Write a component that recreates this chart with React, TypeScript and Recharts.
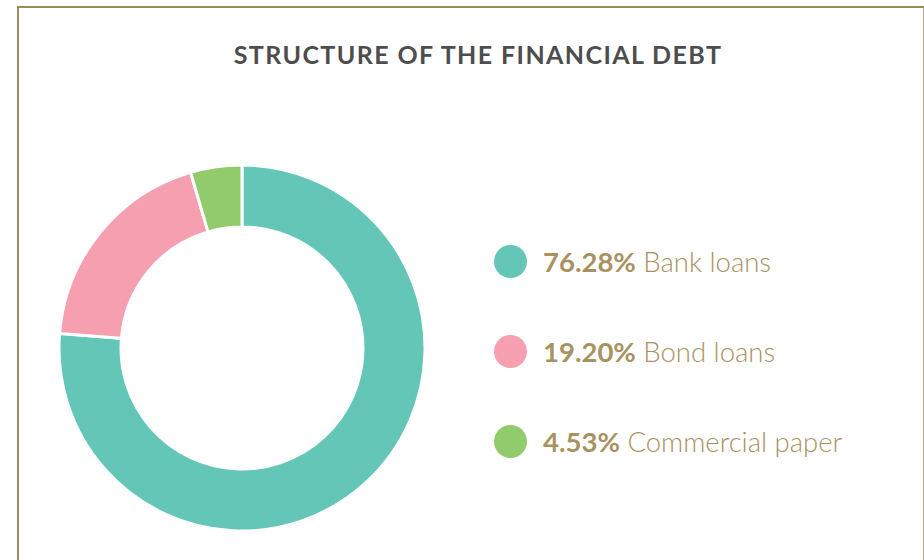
import React from "react";
import { PieChart, Pie, Cell } from "recharts";

const categories = ["Bank loans", "Bond loans", "Commercial paper"];
const shares = [76.28, 19.2, 4.53];
const shareLabels = ["76.28%", "19.20%", "4.53%"];
const colors = ["#63c6b6", "#f59fb0", "#92cb6c"];

const data = categories.map((name, i) => ({ name, value: shares[i], label: shareLabels[i], color: colors[i] }));

const LegendContent = () => (
  <div style={{ fontFamily: "Lato, 'Open Sans', sans-serif", color: "#a8925f" }}>
    {data.map((d) => (
      <div key={d.name} style={{ display: "flex", alignItems: "center", height: 90 }}>
        <span
          style={{
            display: "inline-block",
            width: 33,
            height: 33,
            borderRadius: "50%",
            background: d.color,
            marginRight: 16,
            flexShrink: 0,
          }}
        />
        <span style={{ fontSize: 27.5, whiteSpace: "nowrap", fontWeight: 300 }}>
          <b style={{ fontWeight: 700 }}>{d.label}</b> {d.name}
        </span>
      </div>
    ))}
  </div>
);

export default function App() {
  return (
    <div style={{ position: "absolute", left: 0, top: 0, width: 924, height: 560, background: "#fff", overflow: "hidden" }}>
      <div
        style={{
          position: "absolute",
          left: 17,
          top: 6,
          width: 904,
          height: 600,
          borderTop: "2px solid #9b8b55",
          borderLeft: "2px solid #9b8b55",
          borderRight: "2px solid #b5a882",
        }}
      />
      <div
        style={{
          position: "absolute",
          left: 0,
          top: 39,
          width: 956,
          textAlign: "center",
          fontFamily: "Lato, 'Open Sans', sans-serif",
          fontSize: 25,
          letterSpacing: 1.4,
          fontWeight: 700,
          color: "#4d4d4d",
        }}
      >
        STRUCTURE OF THE FINANCIAL DEBT
      </div>
      <div style={{ position: "absolute", left: 0, top: 0 }}>
        <PieChart width={924} height={560} margin={{ top: 0, right: 0, bottom: 0, left: 0 }}>
          <Pie
            data={data}
            dataKey="value"
            nameKey="name"
            cx={242}
            cy={348}
            innerRadius={121}
            outerRadius={183}
            startAngle={90}
            endAngle={-270}
            stroke="#ffffff"
            strokeWidth={3}
            isAnimationActive={false}
          >
            {data.map((d) => (
              <Cell key={d.name} fill={d.color} />
            ))}
          </Pie>
        </PieChart>
      </div>
      <div style={{ position: "absolute", left: 494, top: 216, width: 420 }}>
        <LegendContent />
      </div>
    </div>
  );
}
